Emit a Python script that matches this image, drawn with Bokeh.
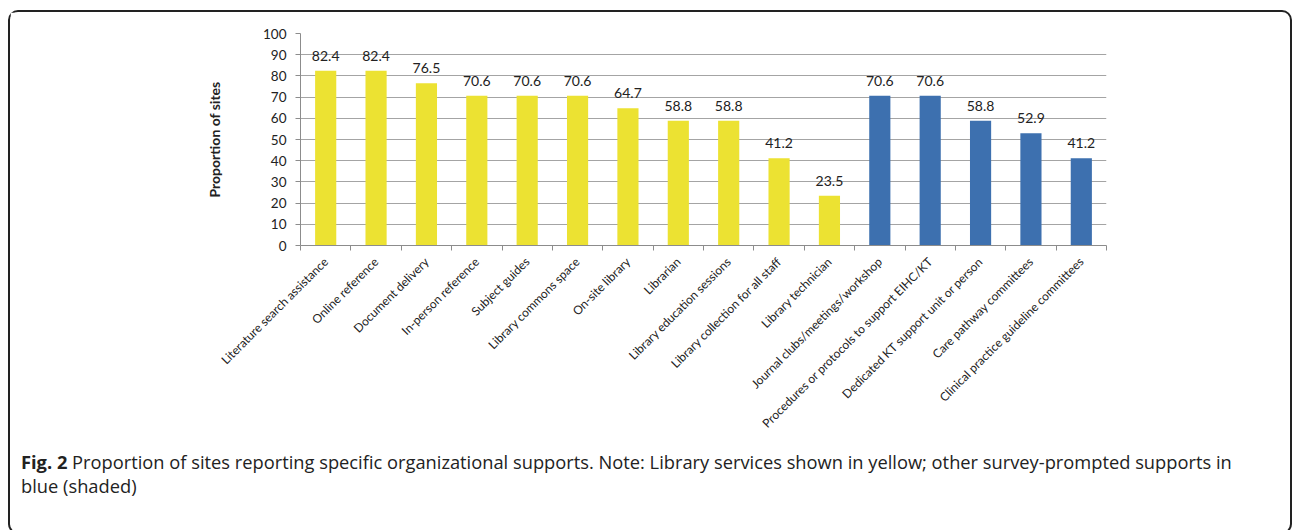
import math
from bokeh.plotting import figure
from bokeh.models import ColumnDataSource, Range1d, FixedTicker, Div, Column
from bokeh.core.properties import value
from bokeh.embed import file_html
from bokeh.resources import INLINE

categories = [
    "Literature search assistance", "Online reference", "Document delivery",
    "In-person reference", "Subject guides", "Library commons space",
    "On-site library", "Librarian", "Library education sessions",
    "Library collection for all staff", "Library technician",
    "Journal clubs/meetings/workshop", "Procedures or protocols to support EIHC/KT",
    "Dedicated KT support unit or person", "Care pathway committees",
    "Clinical practice guideline committees",
]
values = [82.4, 82.4, 76.5, 70.6, 70.6, 70.6, 64.7, 58.8, 58.8, 41.2, 23.5,
          70.6, 70.6, 58.8, 52.9, 41.2]
groups = ["library"] * 11 + ["other"] * 5
y_ticks = [0, 10, 20, 30, 40, 50, 60, 70, 80, 90, 100]

YELLOW = "#ECE232"
BLUE = "#3D70AF"

xs = [i + 0.5 for i in range(len(categories))]
colors = [YELLOW if g == "library" else BLUE for g in groups]
labels = [f"{v:.1f}" for v in values]
src = ColumnDataSource(dict(x=xs, top=values, color=colors, label=labels))

FONT = "Lato"

p = figure(width=1270, height=432, output_backend="svg", toolbar_location=None,
           x_range=Range1d(0, len(categories)), y_range=Range1d(0, 100),
           min_border_left=290, min_border_right=174, min_border_top=21,
           min_border_bottom=199)
p.outline_line_color = None
p.background_fill_color = "white"
p.border_fill_color = "white"

p.vbar(x="x", top="top", bottom=0, width=0.42, fill_color="color",
       line_color=None, source=src)
p.text(x="x", y="top", text="label", source=src, text_align="center",
       text_baseline="bottom", y_offset=-10, text_font=value(FONT),
       text_font_size="14px", text_color="#222222")

# axes
p.xgrid.grid_line_color = None
p.ygrid.grid_line_color = "#A4A4A4"
p.ygrid.grid_line_width = 1

p.yaxis.ticker = FixedTicker(ticks=y_ticks)
p.yaxis.axis_line_color = "#8C8C8C"
p.yaxis.major_tick_line_color = "#8C8C8C"
p.yaxis.major_tick_out = 5
p.yaxis.major_tick_in = 0
p.yaxis.minor_tick_line_color = None
p.yaxis.major_label_text_font = FONT
p.yaxis.major_label_text_font_size = "13.5px"
p.yaxis.major_label_text_color = "#222222"
p.yaxis.major_label_standoff = 9
p.yaxis.axis_label = "Proportion of sites"
p.yaxis.axis_label_text_font = FONT
p.yaxis.axis_label_text_font_style = "bold"
p.yaxis.axis_label_text_font_size = "14px"
p.yaxis.axis_label_text_color = "#222222"
p.yaxis.axis_label_standoff = 37

p.xaxis.ticker = FixedTicker(ticks=xs, minor_ticks=list(range(len(categories) + 1)))
p.xaxis.major_label_overrides = {x: c for x, c in zip(xs, categories)}
p.xaxis.major_label_orientation = math.pi / 4
p.xaxis.axis_line_color = "#8C8C8C"
p.xaxis.major_tick_line_color = None
p.xaxis.minor_tick_line_color = "#8C8C8C"
p.xaxis.minor_tick_out = 5
p.xaxis.minor_tick_in = 0
p.xaxis.major_label_text_font = FONT
p.xaxis.major_label_text_font_size = "12px"
p.xaxis.major_label_text_color = "#222222"
p.xaxis.major_label_standoff = 8

caption = Div(
    text=('<b>Fig. 2</b> Proportion of sites reporting specific organizational supports. '
          'Note: Library services shown in yellow; other survey-prompted supports in<br>'
          'blue (shaded)'),
    width=1270, height=78,
    styles={"font-family": "'Open Sans', sans-serif", "font-size": "18.3px",
            "line-height": "24px", "color": "#222222", "padding-left": "6px",
            "padding-top": "1px"},
)

layout = Column(children=[p, caption], spacing=0,
                styles={"border": "2px solid #222222", "border-radius": "10px",
                        "background-color": "white", "margin-top": "10px",
                        "margin-left": "8px"})

open("out.html", "w").write(file_html(layout, INLINE))
